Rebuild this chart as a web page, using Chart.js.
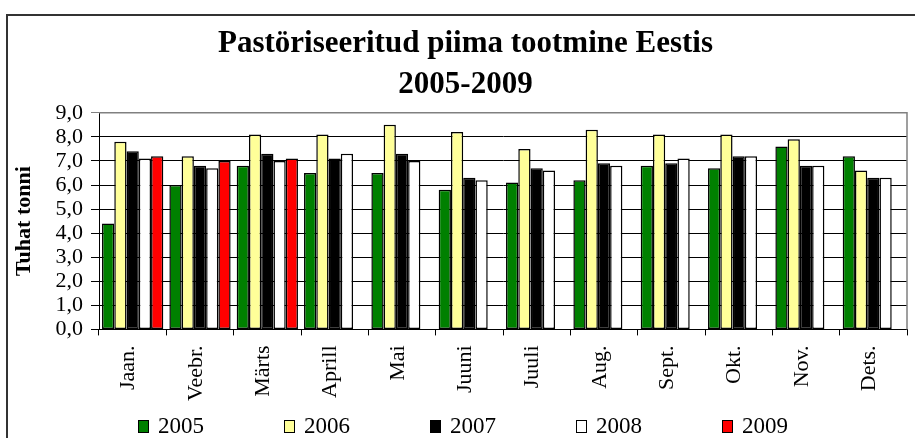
<!DOCTYPE html>
<html>
<head>
    <meta charset="utf-8">
    <title>Pastöriseeritud piima tootmine Eestis</title>
    <script src="https://cdn.jsdelivr.net/npm/chart.js"></script>
    <style>
        body {
            margin: 0;
            background: #fff;
            font-family: "Liberation Serif", serif;
        }
        #frame {
            position: absolute;
            left: 6px;
            top: 14px;
            width: 1000px;
            height: 1000px;
            border: 2px solid #333;
            pointer-events: none;
        }
        #legend {
            position: absolute;
            left: 138px;
            top: 413px;
            display: flex;
            font-size: 23px;
            line-height: 26px;
        }
        #legend .item {
            width: 146px;
            display: flex;
            align-items: center;
        }
        #legend .box {
            width: 9px;
            height: 11px;
            border: 1.5px solid #000;
            margin-right: 9px;
        }
    </style>
</head>
<body>
    <canvas id="milkChart" width="915" height="438"></canvas>
    <div id="frame"></div>
    <div id="legend"></div>

    <script>
        // Data (tuhat tonni)
        const months = ['Jaan.', 'Veebr.', 'Märts', 'Aprill', 'Mai', 'Juuni',
                        'Juuli', 'Aug.', 'Sept.', 'Okt.', 'Nov.', 'Dets.'];
        const years = ['2005', '2006', '2007', '2008', '2009'];
        const y2005 = [4.4, 6.0, 6.8, 6.5, 6.5, 5.8, 6.1, 6.2, 6.8, 6.7, 7.6, 7.2];
        const y2006 = [7.8, 7.2, 8.1, 8.1, 8.5, 8.2, 7.5, 8.3, 8.1, 8.1, 7.9, 6.6];
        const y2007 = [7.4, 6.8, 7.3, 7.1, 7.3, 6.3, 6.7, 6.9, 6.9, 7.2, 6.8, 6.3];
        const y2008 = [7.1, 6.7, 7.0, 7.3, 7.0, 6.2, 6.6, 6.8, 7.1, 7.2, 6.8, 6.3];
        const y2009 = [7.2, 7.0, 7.1, null, null, null, null, null, null, null, null, null];

        const seriesValues = [y2005, y2006, y2007, y2008, y2009];
        const seriesColors = ['#008000', '#FFFF99', '#000000', '#FFFFFF', '#FF0000'];

        const serif = '"Liberation Serif", "Times New Roman", serif';

        // gray frame on top and right of the plot area
        const plotFrame = {
            id: 'plotFrame',
            afterDatasetsDraw(chart) {
                const a = chart.chartArea;
                const ctx = chart.ctx;
                ctx.save();
                ctx.strokeStyle = '#808080';
                ctx.lineWidth = 1.5;
                ctx.beginPath();
                ctx.moveTo(a.left, a.top);
                ctx.lineTo(a.right, a.top);
                ctx.lineTo(a.right, a.bottom);
                ctx.stroke();
                ctx.restore();
            }
        };

        const chart = new Chart(document.getElementById('milkChart').getContext('2d'), {
            type: 'bar',
            data: {
                labels: months,
                datasets: years.map((y, i) => ({
                    label: y,
                    data: seriesValues[i],
                    backgroundColor: seriesColors[i],
                    borderColor: '#000',
                    borderWidth: 1.5,
                    borderSkipped: false,
                    categoryPercentage: 0.91,
                    barPercentage: 1.0
                }))
            },
            options: {
                responsive: false,
                animation: false,
                layout: { padding: { left: 24, right: 8, top: 0, bottom: 27 } },
                plugins: {
                    legend: { display: false },
                    tooltip: { enabled: false },
                    title: {
                        display: true,
                        text: ['Pastöriseeritud piima tootmine Eestis', '2005-2009'],
                        color: '#000',
                        font: { family: serif, size: 31, weight: 'bold', lineHeight: 1.32 },
                        padding: { top: 24, bottom: 7 }
                    }
                },
                scales: {
                    x: {
                        grid: {
                            offset: true,
                            drawOnChartArea: false,
                            drawTicks: true,
                            tickLength: 6,
                            color: '#000'
                        },
                        border: { color: '#000', width: 1 },
                        ticks: {
                            color: '#000',
                            font: { family: serif, size: 22 },
                            minRotation: 90,
                            maxRotation: 90,
                            autoSkip: false,
                            padding: 10,
                            labelOffset: -4
                        }
                    },
                    y: {
                        min: 0,
                        max: 9,
                        afterFit(scale) { scale.width = 75; },
                        grid: {
                            color: ctx => (ctx.tick && ctx.tick.value === 9 ? '#808080' : '#000'),
                            lineWidth: 1,
                            tickLength: 8
                        },
                        border: { color: '#000', width: 1 },
                        ticks: {
                            color: '#000',
                            font: { family: serif, size: 22 },
                            padding: 8,
                            stepSize: 1,
                            autoSkip: false,
                            callback: v => v.toFixed(1).replace('.', ',')
                        },
                        title: {
                            display: true,
                            text: 'Tuhat tonni',
                            color: '#000',
                            font: { family: serif, size: 22, weight: 'bold' },
                            padding: { top: -13, bottom: 0 }
                        }
                    }
                }
            },
            plugins: [plotFrame]
        });

        // legend built from the series
        const legend = document.getElementById('legend');
        years.forEach((y, i) => {
            const item = document.createElement('div');
            item.className = 'item';
            const box = document.createElement('span');
            box.className = 'box';
            box.style.background = seriesColors[i];
            item.appendChild(box);
            item.appendChild(document.createTextNode(y));
            legend.appendChild(item);
        });
    </script>
</body>
</html>
